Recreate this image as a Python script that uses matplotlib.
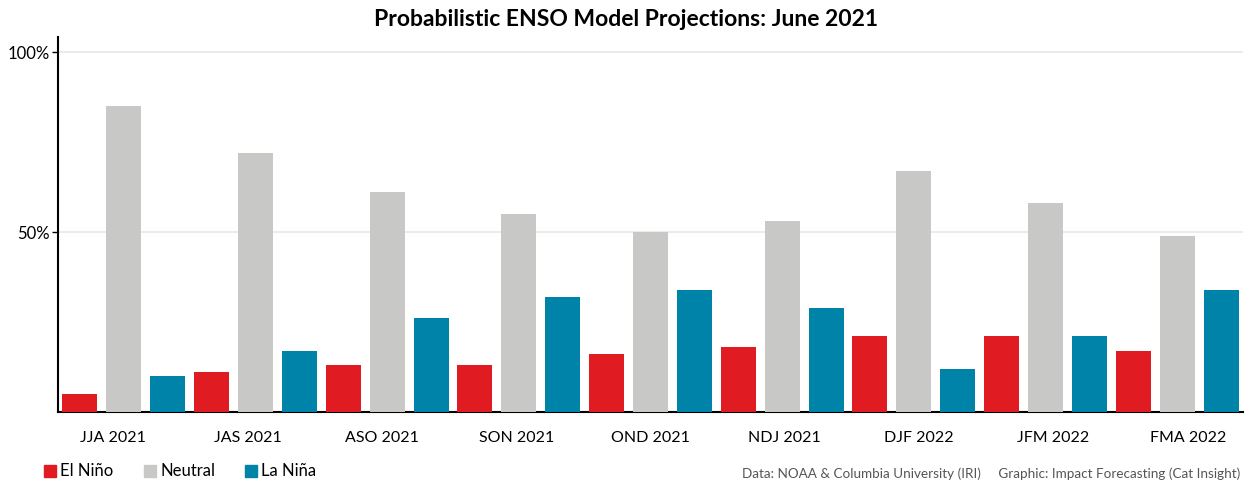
import matplotlib
matplotlib.use("Agg")
import matplotlib.pyplot as plt
import numpy as np
from matplotlib.patches import Rectangle

seasons = ["JJA 2021", "JAS 2021", "ASO 2021", "SON 2021", "OND 2021",
           "NDJ 2021", "DJF 2022", "JFM 2022", "FMA 2022"]
el_nino = [5, 11, 13, 13, 16, 18, 21, 21, 17]
neutral = [85, 72, 61, 55, 50, 53, 67, 58, 49]
la_nina = [10, 17, 26, 32, 34, 29, 12, 21, 34]

series_names = ["El Niño", "Neutral", "La Niña"]
colors = ["#e01b22", "#c8c8c6", "#0083a9"]

plt.rcParams["font.family"] = ["Lato", "DejaVu Sans"]

fig = plt.figure(figsize=(12.53, 4.83), dpi=100)
ax = fig.add_axes([58 / 1253, 71 / 483, 1185 / 1253, 375 / 483])

x = np.arange(len(seasons))
w = 0.266
off = 0.334
for i, (vals, c) in enumerate(zip([el_nino, neutral, la_nina], colors)):
    ax.bar(x + (i - 1) * off, vals, width=w, color=c, zorder=3)

ax.set_xlim(-0.5, 8.5)
ax.set_ylim(0, 104.2)
ax.set_yticks([50, 100])
ax.set_yticklabels(["50%", "100%"], fontsize=12)
ax.yaxis.grid(True, color="#e8e8e8", linewidth=1.2, zorder=0)
ax.set_xticks(x * 1.02 - 0.08)
ax.set_xticklabels(seasons, fontsize=11.5)
ax.tick_params(axis="x", length=0, pad=14)
ax.tick_params(axis="y", length=4, width=1, pad=2)
for s in ["top", "right"]:
    ax.spines[s].set_visible(False)
ax.spines["left"].set_linewidth(1.5)
ax.spines["bottom"].set_linewidth(1.5)

fig.suptitle("Probabilistic ENSO Model Projections: June 2021",
             fontsize=16.5, fontweight="bold", y=0.982)

# legend
lx = [44, 144, 245]
for px, name, c in zip(lx, series_names, colors):
    fig.patches.append(Rectangle((px / 1253, 1 - 477 / 483), 12 / 1253, 12 / 483,
                                 transform=fig.transFigure, color=c))
    fig.text((px + 16) / 1253, 1 - 471 / 483, name, fontsize=12, va="center")

fig.text(1240 / 1253, 1 - 474 / 483,
         "Data: NOAA & Columbia University (IRI)     Graphic: Impact Forecasting (Cat Insight)",
         fontsize=9.7, color="#555555", ha="right", va="center")

fig.savefig("out.png", dpi=100)
